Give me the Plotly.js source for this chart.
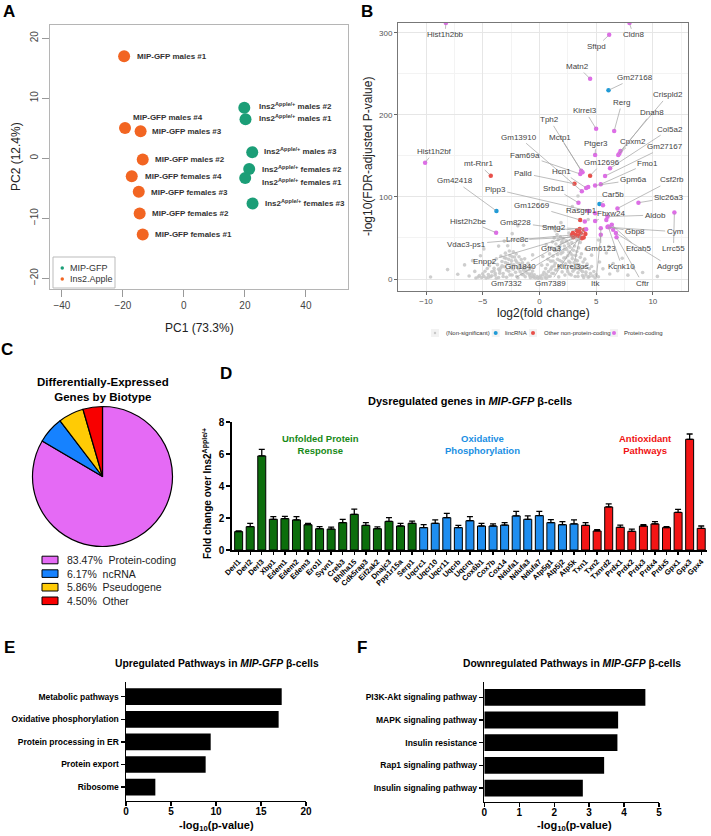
<!DOCTYPE html>
<html><head><meta charset="utf-8">
<script src="https://cdn.plot.ly/plotly-3.0.1.min.js"></script>
<style>html,body{margin:0;padding:0;background:#fff}#chart{width:711px;height:836px}</style>
</head><body><div id="chart"></div>
<script>
// ---------- Panel A: PCA ----------
const legendNamesA = ['MIP-GFP', 'Ins2.Apple'];
const orangeSamples = ['MIP-GFP males #1','MIP-GFP males #4','MIP-GFP males #3','MIP-GFP males #2','MIP-GFP females #4','MIP-GFP females #3','MIP-GFP females #2','MIP-GFP females #1'];
const orangePC1 = [-19.6,-19.3,-14.2,-13.5,-17.1,-14.8,-14.5,-13.5];
const orangePC2 = [17.0,5.05,4.5,-0.2,-3.0,-5.6,-9.2,-12.7];
const greenSamples = ['Ins2<sup>Apple/+</sup> males #2','Ins2<sup>Apple/+</sup> males #1','Ins2<sup>Apple/+</sup> males #3','Ins2<sup>Apple/+</sup> females #2','Ins2<sup>Apple/+</sup> females #1','Ins2<sup>Apple/+</sup> females #3'];
const greenPC1 = [19.8,20.2,22.4,21.4,20.1,22.5];
const greenPC2 = [8.4,6.5,1.0,-1.8,-3.3,-7.55];
const pcaAxisTitles = ['PC1 (73.3%)','PC2 (12.4%)'];

// ---------- Panel B: volcano ----------
const nonSigPoints = [[-5.6,1.2],[-5.4,2.5],[-5.3,4.1],[-5.1,1.8],[-5.0,6.3],[-4.9,3.2],[-4.8,9.5],[-4.7,1.1],[-4.6,12.8],[-4.5,5.4],[-4.4,16.2],[-4.3,2.7],[-4.2,8.9],[-4.1,20.3],[-4.0,13.1],[-3.9,4.6],[-3.8,24.7],[-3.7,17.5],[-3.6,1.9],[-3.5,10.2],[-3.4,28.1],[-3.3,21.4],[-3.2,6.8],[-3.1,14.9],[-3.0,31.5],[-2.95,25.3],[-2.9,2.2],[-2.8,18.7],[-2.7,9.4],[-2.65,34.2],[-2.6,28.6],[-2.5,13.8],[-2.45,22.1],[-2.4,4.9],[-2.3,33.1],[-2.25,17.2],[-2.2,26.9],[-2.1,8.1],[-2.05,30.4],[-2.0,20.6],[-1.9,1.5],[-1.85,12.4],[-1.8,27.2],[-1.7,16.3],[-1.6,23.8],[-1.55,5.7],[-1.5,19.9],[-1.4,10.8],[-1.3,24.6],[-1.25,2.8],[-1.2,15.1],[-1.1,7.3],[-1.0,19.2],[-0.9,11.6],[-0.85,3.9],[-0.8,14.2],[-0.7,6.5],[-0.6,9.8],[-0.5,2.1],[-0.45,5.2],[-0.35,1.3],
[-0.2,2.9],[-0.1,0.8],[0.0,1.9],[0.1,3.6],[0.2,0.6],[0.3,5.1],
[0.4,8.3],[0.5,2.4],[0.55,12.7],[0.6,5.9],[0.7,17.4],[0.75,24.1],[0.8,9.2],[0.9,30.6],[0.95,3.4],[1.0,21.8],[1.05,38.2],[1.1,14.5],[1.15,45.3],[1.2,27.9],[1.25,6.7],[1.3,50.1],[1.35,34.6],[1.4,19.3],[1.45,42.7],[1.5,11.2],[1.55,54.2],[1.6,29.8],[1.65,47.9],[1.7,2.6],[1.75,37.4],[1.8,22.6],[1.85,51.3],[1.9,15.8],[1.95,44.1],[2.0,8.7],[2.05,32.5],[2.1,49.2],[2.15,25.7],[2.2,40.3],[2.25,4.8],[2.3,18.4],[2.35,46.6],[2.4,35.9],[2.45,12.1],[2.5,28.3],[2.55,42.8],[2.6,21.5],[2.65,6.2],[2.7,38.7],[2.75,31.2],[2.8,15.6],[2.85,44.3],[2.9,24.9],[2.95,9.6],[3.0,35.1],[3.05,19.7],[3.1,40.2],[3.15,3.1],[3.2,28.8],[3.25,13.4],[3.3,33.6],[3.35,22.3],[3.4,7.5],[3.45,37.9],[3.5,17.1],[3.6,26.4],[3.65,10.9],[3.7,30.8],[3.8,4.3],[3.85,20.8],[3.9,14.7],[4.0,24.2],[4.1,8.4],[4.2,18.1],[4.3,2.3],[4.4,12.6],[4.5,6.8],[4.6,15.3],[4.7,3.7],[4.8,9.1],[4.9,1.6],[5.0,5.5],[5.2,2.8],
[-9.6,2.4],[-8.1,11.5],[-7.2,5.8],[-6.6,17.2],[-6.2,3.6],[-5.9,22.4],[-5.7,9.3],[-5.2,28.3],[-4.9,36.7],[-3.6,40.1],[-3.1,46.2],[-2.4,55.3],[-1.4,41.2],[-0.6,29.4],[0.2,16.9],[0.6,42.1],[1.1,62.4],[1.9,68.7],[2.6,56.1],[3.3,48.2],[3.6,44.6],[4.1,36.3],[4.6,29.1],[5.3,20.7],[5.6,12.4],[5.9,31.8],[6.2,6.1],[6.5,18.9],[6.9,10.2],[7.3,25.4],[7.8,4.7],[8.3,13.6],[9.1,7.9],[10.4,3.2],[4.3,72.5],[2.9,88.3],[5.2,47.6],[-1.9,64.8],[6.1,39.7],[3.4,101.2],[-3.4,13.6],[-2.8,40.5],[1.4,58.8],[0.3,27.4],
[-4.5,2],[-4.2,4],[-3.9,7],[-3.6,12],[-3.3,16],[-3.0,20],[-2.7,24],[-2.4,27],[-2.1,23],[-1.8,19],[-1.5,14],[-1.2,10],[-0.9,6],[-0.6,3],[-3.8,1],[-3.2,3],[-2.6,5],[-2.0,3],[-1.4,5],[-0.8,1.5],[-2.9,11],[-2.3,12],[-1.7,9],[-3.5,7],[-4.0,10],[-2.5,18],[-1.9,14],[-3.1,26],
[0.8,3],[1.1,7],[1.4,11],[1.7,16],[2.0,21],[2.3,26],[2.6,33],[2.9,29],[3.2,23],[3.5,12],[3.8,9],[4.1,5],[1.3,16],[1.6,24],[1.9,31],[2.2,36],[2.5,9],[2.8,5],[3.1,12],[3.4,3],[1.8,40],[2.0,46],[1.5,35],[1.2,22],[2.7,20],[3.3,18],[3.9,2],[4.4,3],[1.0,12],[0.6,1]];
const volcGenes = ['Hist1h2bb','Cldn8','Sftpd','Matn2','Gm27168','Rerg','Kirrel3','Tph2','Mctp1','Gm13910','Fam69a','Ptger3','Cpxm2','Crispld2','Dnah8','Col5a2','Gm27167','Hist1h2bf','mt-Rnr1','Gm12696','Fmo1','Palld','Hcn1','Gm42418','Gpm6a','Csf2rb','Plpp3','Srbd1','Car5b','Slc26a3','Gm12669','Rasgrp1','Fbxw24','Aldob','Hist2h2be','Gm8228','Smtg2','Gbp8','Cym','Lrrc8c','Vdac3-ps1','Gfra3','Gm6123','Efcab5','Lrrc55','Enpp2','Gm1840','Kirrel3os','Kcnk10','Adgrg6','Gm7332','Gm7389','Itk','Cftr','','','','','','','','','',''];
const volcLog2FC = [-8.25,7.94,6.15,4.47,6.09,6.59,5.0,3.68,3.8,3.74,3.6,4.91,7.05,7.15,6.95,6.23,5.79,-10.08,-4.29,4.47,5.41,3.09,4.12,-3.79,4.91,6.88,4.3,3.44,5.29,8.73,3.59,4.91,4.91,6.0,-3.82,3.3,4.12,6.0,6.15,3.0,2.86,3.5,5.41,6.38,11.9,3.15,3.3,3.65,6.06,6.74,3.74,3.94,5.41,6.8, 4.3,5.6,4.0,5.9,6.5,3.4,3.9,2.95,3.55,4.05];
const volcLogFDR = [312,312,297.6,244,230,180.5,183,132,130,107,128,151,153,156,151,135,125.6,141.8,126,126,115.5,116,111,83,114,86,83,93,91.5,93,72,80,70.7,76,56.5,59,60.6,63.5,63,51,53.6,52.4,62,66,81,53.6,53,55.7,64,56,49.6,60,54,51, 112,90,70,72,60,58,50.5,56,61,55];
const volcType = ['P','P','P','P','L','P','P','P','P','P','P','P','P','P','P','P','P','P','O','O','P','O','P','L','P','P','P','P','L','P','O','P','P','P','P','O','P','P','P','O','O','O','P','P','P','O','O','O','P','P','O','O','P','P', 'P','P','P','P','P','O','O','O','O','O'];
const volcLegend = ['(Non-significant)','lincRNA','Other non-protein-coding','Protein-coding'];

// ---------- Panel C: pie ----------
const biotypes = ['Protein-coding','ncRNA','Pseudogene','Other'];
const biotypePct = [83.47,6.17,5.86,4.50];

// ---------- Panel D: bars ----------
const uprGenes = ['Derl1','Derl2','Derl3','Xbp1','Edem1','Edem2','Edem3','Ero1l','Syvn1','Creb3','Bhlha15','Cdk5rap3','Eif2ak2','Dnajc3','Ppp1r15a','Serp1'];
const uprFC = [1.15,1.46,5.88,1.92,1.96,1.88,1.58,1.33,1.31,1.71,2.23,1.54,1.33,1.79,1.50,1.67];
const uprErr = [0.05,0.21,0.41,0.16,0.14,0.20,0.09,0.13,0.12,0.21,0.33,0.17,0.12,0.23,0.17,0.14];
const oxGenes = ['Uqcrc1','Uqcr10','Uqcr11','Uqcrb','Uqcrq','Cox6b1','Cox7b','Cox14','Ndufa1','Ndufa3','Ndufa7','Atp5g1','Atp5j2','Atp5k'];
const oxFC = [1.40,1.67,2.02,1.40,1.83,1.50,1.50,1.56,2.13,1.92,2.15,1.71,1.58,1.63];
const oxErr = [0.18,0.21,0.27,0.14,0.25,0.17,0.13,0.15,0.29,0.21,0.27,0.19,0.19,0.25];
const aoGenes = ['Txn1','Txn2','Txnrd2','Prdx1','Prdx2','Prdx3','Prdx4','Prdx5','Gpx1','Gpx3','Gpx4'];
const aoFC = [1.54,1.19,2.69,1.42,1.17,1.50,1.63,1.40,2.35,6.92,1.35];
const aoErr = [0.17,0.08,0.19,0.14,0.14,0.08,0.14,0.06,0.19,0.33,0.15];
const groupNames = ['Unfolded Protein<br>Response','Oxidative<br>Phosphorylation','Antioxidant<br>Pathways'];

// ---------- Panels E, F ----------
const upPathways = ['Metabolic pathways','Oxidative phosphorylation','Protein processing in ER','Protein export','Ribosome'];
const upLogP = [17.3,16.96,9.41,8.85,3.26];
const downPathways = ['PI3K-Akt signaling pathway','MAPK signaling pathway','Insulin resistance','Rap1 signaling pathway','Insulin signaling pathway'];
const downLogP = [4.61,3.83,3.81,3.43,2.82];

// ================= layout helpers =================
const W = 711, H = 836;
const X = p => p / W, Y = p => 1 - p / H;
const F = 'Liberation Sans, Arial, Helvetica, sans-serif';
function ann(text, x, y, font, o) {
  return Object.assign({text, x: X(x), y: Y(y), xref: 'paper', yref: 'paper', showarrow: false,
    xanchor: 'center', yanchor: 'middle', font: Object.assign({family: F, size: 10, color: '#000'}, font)}, o || {});
}
const annotations = [], shapes = [], traces = [];

// ---- A ----
const colGreen = '#1b9e77', colOrange = '#f26522';
traces.push({type: 'scatter', mode: 'markers', x: greenPC1, y: greenPC2, name: legendNamesA[0], xaxis: 'x', yaxis: 'y',
  marker: {size: 12, color: colGreen}, showlegend: false, hoverinfo: 'x+y'});
traces.push({type: 'scatter', mode: 'markers', x: orangePC1, y: orangePC2, name: legendNamesA[1], xaxis: 'x', yaxis: 'y',
  marker: {size: 12, color: colOrange}, showlegend: false, hoverinfo: 'x+y'});
const shiftOrange = [[10.7,0],[5.7,10.7],[9.3,0],[10.6,0],[11.3,0],[10.7,-0.3],[10.3,0],[10,0]];
const shiftGreen = [[12.4,1.7],[11,0.7],[10,1.3],[10.4,0],[14.4,-4.3],[10.6,0.3]];
orangeSamples.forEach((s, i) => annotations.push({text: s, x: orangePC1[i], y: orangePC2[i], xref: 'x', yref: 'y', showarrow: false,
  xanchor: 'left', yanchor: 'middle', xshift: shiftOrange[i][0], yshift: shiftOrange[i][1], font: {family: F, size: 8, color: '#333', weight: 'bold'}}));
greenSamples.forEach((s, i) => annotations.push({text: s, x: greenPC1[i], y: greenPC2[i], xref: 'x', yref: 'y', showarrow: false,
  xanchor: 'left', yanchor: 'middle', xshift: shiftGreen[i][0], yshift: shiftGreen[i][1], font: {family: F, size: 8, color: '#333', weight: 'bold'}}));
annotations.push(ann(pcaAxisTitles[0], 199, 328, {size: 12, color: '#222'}));
annotations.push(ann(pcaAxisTitles[1], 16, 157, {size: 12, color: '#222'}, {textangle: -90}));
// legend A
shapes.push({type: 'rect', xref: 'paper', yref: 'paper', x0: X(53), x1: X(115), y0: Y(288), y1: Y(257), line: {color: '#bbb', width: 1}, fillcolor: '#fff'});
[[colGreen, 268, legendNamesA[0]], [colOrange, 279, legendNamesA[1]]].forEach(([c, yy, t]) => {
  shapes.push({type: 'circle', xref: 'paper', yref: 'paper', x0: X(60.5), x1: X(64), y0: Y(yy + 1.75), y1: Y(yy - 1.75), fillcolor: c, line: {width: 0}});
  annotations.push(ann(t, 68, yy, {size: 9, color: '#333'}, {xanchor: 'left'}));
});

// ---- B ----
const typeColor = {L: '#1f9ad6', O: '#e8504a', P: '#dd6ee6'};
traces.push({type: 'scatter', mode: 'markers', x: nonSigPoints.map(p => p[0]), y: nonSigPoints.map(p => p[1]), xaxis: 'x2', yaxis: 'y2',
  name: volcLegend[0], marker: {size: 3.6, color: '#c6c6c6', opacity: 0.85}, showlegend: false, hoverinfo: 'x+y'});
[['L', volcLegend[1]], ['O', volcLegend[2]], ['P', volcLegend[3]]].forEach(([t, nm]) => {
  const idx = volcType.map((v, i) => v === t ? i : -1).filter(i => i >= 0);
  traces.push({type: 'scatter', mode: 'markers', x: idx.map(i => volcLog2FC[i]), y: idx.map(i => volcLogFDR[i]), text: idx.map(i => volcGenes[i]),
    xaxis: 'x2', yaxis: 'y2', name: nm, marker: {size: 4.5, color: typeColor[t]}, showlegend: false, hoverinfo: 'text+x+y'});
});
const labelPos = {
  'Hist1h2bb':[-8.32,297.6],'Cldn8':[8.26,297.6],'Sftpd':[5.06,283.3],'Matn2':[3.39,259],'Gm27168':[8.44,245.5],'Rerg':[7.27,215],
  'Kirrel3':[4.03,204.9],'Tph2':[0.92,194],'Crispld2':[11.35,224.4],'Dnah8':[9.91,202.8],'Col5a2':[11.5,182.6],'Gm13910':[-1.79,172.8],
  'Mctp1':[1.83,172.8],'Ptger3':[4.97,165.5],'Cpxm2':[8.24,167.4],'Gm27167':[11.08,161.3],'Hist1h2bf':[-9.29,155.2],'Fam69a':[-1.26,150.9],
  'mt-Rnr1':[-5.38,140.2],'Gm12696':[5.56,141.8],'Fmo1':[9.56,141.1],'Palld':[-1.41,128.9],'Hcn1':[1.98,130.9],'Gm42418':[-7.43,119.5],
  'Gpm6a':[8.29,120.7],'Csf2rb':[11.68,120.7],'Plpp3':[-3.9,109.4],'Srbd1':[1.32,110.6],'Car5b':[6.53,102.4],'Slc26a3':[11.38,99.1],
  'Gm12669':[-0.67,89.4],'Rasgrp1':[3.74,84.1],'Fbxw24':[6.38,80.1],'Aldob':[10.2,78],'Hist2h2be':[-6.26,70.7],'Gm8228':[-2.08,68.7],
  'Smtg2':[1.27,63],'Gbp8':[8.44,57.7],'Cym':[11.97,57.7],'Lrrc8c':[-1.99,47.6],'Vdac3-ps1':[-6.46,42.3],'Gfra3':[1.03,36.6],
  'Gm6123':[5.41,36.6],'Efcab5':[8.73,36.6],'Lrrc55':[11.82,36.6],'Enpp2':[-4.79,21.1],'Gm1840':[-1.7,15],'Kirrel3os':[3.0,15],
  'Kcnk10':[7.27,15],'Adgrg6':[11.53,15],'Gm7332':[-2.94,-5.2],'Gm7389':[0.94,-5.2],'Itk':[4.97,-5.2],'Cftr':[9.08,-5.2]};
volcGenes.forEach((g, i) => {
  if (!labelPos[g]) return;
  annotations.push({text: g, x: volcLog2FC[i], y: volcLogFDR[i], xref: 'x2', yref: 'y2', ax: labelPos[g][0], ay: labelPos[g][1],
    axref: 'x2', ayref: 'y2', showarrow: true, arrowhead: 0, arrowwidth: 0.7, arrowcolor: '#a0a0a0', standoff: 1,
    font: {family: F, size: 8, color: '#444'}});
});
annotations.push(ann('log2(fold change)', 543, 313, {size: 12, color: '#222'}));
annotations.push(ann('-log10(FDR-adjusted P-value)', 368, 157, {size: 12, color: '#222'}, {textangle: -90}));
// legend B
[[435, '#c8c8c8', 444, 1.2], [495.7, typeColor.L, 503, 2], [533, typeColor.O, 541.7, 2], [614, typeColor.P, 621.7, 2]].forEach(([kx, c, tx, r], i) => {
  shapes.push({type: 'rect', xref: 'paper', yref: 'paper', x0: X(kx - 4), x1: X(kx + 4), y0: Y(337), y1: Y(329), fillcolor: '#f2f2f2', line: {width: 0}});
  shapes.push({type: 'circle', xref: 'paper', yref: 'paper', x0: X(kx - r), x1: X(kx + r), y0: Y(333 + r), y1: Y(333 - r), fillcolor: c, line: {width: 0}});
  annotations.push(ann(volcLegend[i], tx, 333, {size: 6, color: '#333'}, {xanchor: 'left'}));
});

// ---- C ----
const pieColors = ['#e56af5', '#1682ff', '#ffcb05', '#f80000'];
traces.push({type: 'pie', labels: biotypes, values: biotypePct, sort: false, direction: 'clockwise', rotation: 0,
  marker: {colors: pieColors, line: {color: '#000', width: 1.2}}, textinfo: 'none', showlegend: false,
  domain: {x: [X(32.5), X(172.5)], y: [Y(546.5), Y(406.5)]}, hoverinfo: 'label+value'});
annotations.push(ann('Differentially-Expressed<br>Genes by Biotype', 103, 389, {size: 11.5, weight: 'bold'}));
biotypes.forEach((b, i) => {
  const yy = 560 + i * 13.6;
  shapes.push({type: 'rect', xref: 'paper', yref: 'paper', x0: X(42), x1: X(58), y0: Y(yy + 3.8), y1: Y(yy - 3.8), fillcolor: pieColors[i], line: {color: '#000', width: 1}});
  annotations.push(ann(biotypePct[i].toFixed(2) + '%\u00a0\u00a0' + b, 65, yy, {size: 10.5, color: '#222'}, {xanchor: 'left'}));
});

// ---- D ----
const dGenes = uprGenes.concat(oxGenes, aoGenes);
const dFC = uprFC.concat(oxFC, aoFC);
const dErr = uprErr.concat(oxErr, aoErr);
const dCols = uprGenes.map(() => '#0c6e0c').concat(oxGenes.map(() => '#1f8ef0'), aoGenes.map(() => '#f31515'));
traces.push({type: 'bar', x: dGenes, y: dFC, xaxis: 'x3', yaxis: 'y3', width: 0.69, showlegend: false,
  marker: {color: dCols, line: {color: '#000', width: 1}},
  error_y: {type: 'data', array: dErr, arrayminus: dErr.map(() => 0), symmetric: false, color: '#000', thickness: 1.3, width: 3}});
annotations.push(ann('Dysregulated genes in <i>MIP-GFP</i> β-cells', 470, 401, {size: 11, weight: 'bold'}));
annotations.push(ann(groupNames[0], 320, 444, {size: 9.5, weight: 'bold', color: '#178a17'}));
annotations.push(ann(groupNames[1], 482, 444, {size: 9.5, weight: 'bold', color: '#1a8fe3'}));
annotations.push(ann(groupNames[2], 645, 444, {size: 9.5, weight: 'bold', color: '#f01212'}));
annotations.push(ann('Fold change over Ins2<sup>Apple/+</sup>', 207, 494, {size: 10, weight: 'bold'}, {textangle: -90}));

// ---- E, F ----
traces.push({type: 'bar', orientation: 'h', x: upLogP, y: upPathways, xaxis: 'x4', yaxis: 'y4', width: 0.74, showlegend: false, marker: {color: '#000'}});
traces.push({type: 'bar', orientation: 'h', x: downLogP, y: downPathways, xaxis: 'x5', yaxis: 'y5', width: 0.74, showlegend: false, marker: {color: '#000'}});
annotations.push(ann('Upregulated Pathways in <i>MIP-GFP</i> β-cells', 217, 663, {size: 10.3, weight: 'bold'}));
annotations.push(ann('Downregulated Pathways in <i>MIP-GFP</i> β-cells', 572, 663, {size: 10.3, weight: 'bold'}));
annotations.push(ann('-log<sub>10</sub>(p-value)', 216, 826, {size: 11, weight: 'bold'}));
annotations.push(ann('-log<sub>10</sub>(p-value)', 574, 826, {size: 11, weight: 'bold'}));

// panel letters
[['A', 9, 11], ['B', 367, 11], ['C', 7, 349], ['D', 226, 373], ['E', 9, 647], ['F', 362, 647]].forEach(([t, x, y]) =>
  annotations.push(ann(t, x, y, {size: 17, weight: 'bold'})));

const gpAxis = {showline: true, linecolor: '#000', linewidth: 1.5, ticks: 'outside', ticklen: 4, tickwidth: 1.3, tickcolor: '#000',
  showgrid: false, zeroline: false};
const layout = {
  width: W, height: H, margin: {l: 0, r: 0, t: 0, b: 0}, paper_bgcolor: '#fff', plot_bgcolor: 'rgba(0,0,0,0)',
  showlegend: false, barmode: 'overlay', font: {family: F},
  xaxis: {domain: [X(50), X(348)], range: [-43.9, 53.8], tickvals: [-40, -20, 0, 20, 40], ticks: 'outside', ticklen: 7, tickcolor: '#999',
    showline: true, mirror: true, linecolor: '#b5b5b5', showgrid: false, zeroline: false, tickfont: {size: 10, color: '#444'}, anchor: 'y'},
  yaxis: {domain: [Y(289), Y(25)], range: [-21.8, 22.2], tickvals: [-20, -10, 0, 10, 20], tickangle: -90, ticks: 'outside', ticklen: 7, tickcolor: '#999',
    showline: true, mirror: true, linecolor: '#b5b5b5', showgrid: false, zeroline: false, tickfont: {size: 10, color: '#444'}, anchor: 'x'},
  xaxis2: {domain: [X(398), X(688)], range: [-12.47, 13.1], tick0: 0, dtick: 5, ticks: 'outside', ticklen: 3, tickcolor: '#666',
    showline: true, mirror: true, linecolor: '#777', showgrid: true, gridcolor: '#e6e6e6', zeroline: false, ticklabelstandoff: -1,
    minor: {dtick: 2.5, showgrid: true, gridcolor: '#f3f3f3'}, tickfont: {size: 8, color: '#555'}, anchor: 'y2'},
  yaxis2: {domain: [Y(291), Y(23)], range: [-14.6, 312], tick0: 0, dtick: 100, ticks: 'outside', ticklen: 3, tickcolor: '#666',
    showline: true, mirror: true, linecolor: '#777', showgrid: true, gridcolor: '#e6e6e6', zeroline: false,
    minor: {dtick: 50, showgrid: true, gridcolor: '#f3f3f3'}, tickfont: {size: 8, color: '#555'}, anchor: 'x2'},
  xaxis3: Object.assign({}, gpAxis, {domain: [X(231.7), X(707)], type: 'category', categoryorder: 'array', categoryarray: dGenes,
    range: [-0.6, 40.5], tickangle: -45, ticklen: 3, tickfont: {size: 7.5, weight: 'bold', color: '#000'}, anchor: 'y3'}),
  yaxis3: Object.assign({}, gpAxis, {domain: [Y(550), Y(422)], range: [0, 8], dtick: 2, tickfont: {size: 10, weight: 'bold', color: '#000'}, anchor: 'x3'}),
  xaxis4: Object.assign({}, gpAxis, {domain: [X(126), X(306)], range: [0, 20], dtick: 5, ticklabelstandoff: -3, tickfont: {size: 10, weight: 'bold', color: '#000'}, anchor: 'y4'}),
  yaxis4: Object.assign({}, gpAxis, {domain: [Y(800.7), Y(681.7)], type: 'category', categoryorder: 'array', categoryarray: upPathways,
    range: [4.6, -0.66], tickfont: {size: 8.5, weight: 'bold', color: '#000'}, anchor: 'x4'}),
  xaxis5: Object.assign({}, gpAxis, {domain: [X(484.3), X(659)], range: [0, 5], dtick: 1, ticklabelstandoff: -3, tickfont: {size: 10, weight: 'bold', color: '#000'}, anchor: 'y5'}),
  yaxis5: Object.assign({}, gpAxis, {domain: [Y(801.7), Y(682.3)], type: 'category', categoryorder: 'array', categoryarray: downPathways,
    range: [4.6, -0.66], tickfont: {size: 8.5, weight: 'bold', color: '#000'}, anchor: 'x5'}),
  annotations, shapes
};
Plotly.newPlot('chart', traces, layout, {displayModeBar: false, staticPlot: true});
</script></body></html>
